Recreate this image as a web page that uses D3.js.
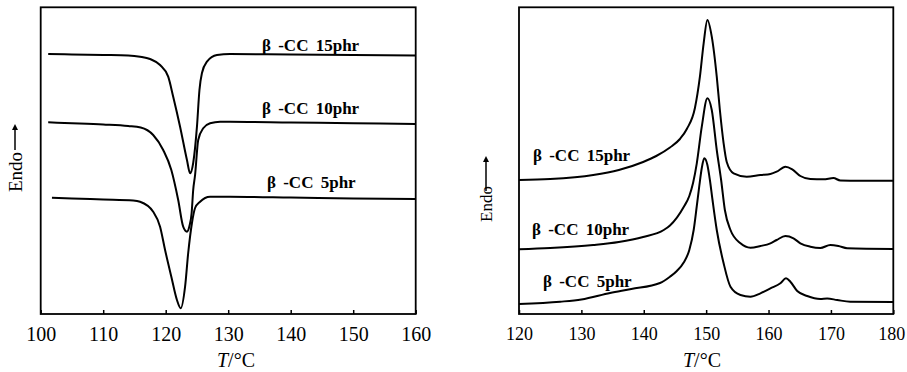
<!DOCTYPE html>
<html><head><meta charset="utf-8">
<script src="https://cdn.jsdelivr.net/npm/d3@7"></script>
<style>
body{margin:0;background:#fff}
svg{display:block}
text{font-family:"Liberation Serif","Times New Roman",serif;fill:#000}
</style>
</head><body>
<svg id="c" width="907" height="372"></svg>
<script>
// ---- data ----
const leftTicks = [100,110,120,130,140,150,160];
const rightTicks = [120,130,140,150,160,170,180];
const seriesLabels = ["β -CC 15phr","β -CC 10phr","β -CC 5phr"];
const axisTitle = "T/°C";
const yLabel = "Endo";

// cooling (crystallization) curves, [T, heat flow a.u.]
const cool15 = [[101.2,260],[105,259.5],[110,259],[114,258.5],[115.9,257.3],[117.5,255],[119.1,249],[120.4,237.3],[121.2,217.3],[122.3,187.3],[123.4,154],[123.9,140.7],[124.4,151],[125.0,187.3],[125.4,224],[125.8,241],[126.6,252.3],[128.2,259],[130.3,260],[140,259.5],[150,259],[160,258.5]];
const cool10 = [[101.2,191.7],[105,190.8],[110,189.5],[114,188],[116,186.5],[118,179],[119.6,164],[120.9,144],[122.0,114],[122.8,87.3],[123.4,82.3],[123.8,88],[124.15,101],[124.4,124],[124.7,139],[125.2,174],[126.0,185.7],[127.1,190.7],[128.7,192.3],[130.3,192.3],[140,191.5],[150,190.7],[160,190]];
const cool5 = [[101.8,116.3],[105,115.5],[110,114.5],[114.8,113.5],[115.9,112.3],[118,102.3],[119.1,87.3],[119.9,64],[120.9,37.3],[121.8,14],[122.4,5.7],[123.1,27.3],[123.6,61],[124.2,91],[124.7,106],[125.5,112.3],[127.1,117.3],[130.3,117.3],[140,116.5],[150,115.5],[160,115]];

// heating (melting) curves, [T, heat flow a.u.]
const heat15 = [[120,134],[125,135],[131.9,139],[136,144],[139.9,152],[142,158],[144.2,166.5],[145.8,175],[146.9,185],[148.2,206],[149.0,237.3],[149.6,270.7],[150.2,294],[150.9,277.3],[151.7,237.3],[152.2,204],[152.8,170.7],[153.3,152],[154.4,140.7],[156.5,137.3],[158.7,139],[160.3,140],[161.3,142.3],[162.7,147.3],[163.8,144.7],[165.1,138],[166.7,135],[168.8,134.7],[170.4,136],[171.5,133.5],[174.7,133.3],[180,133.3]];
const heat10 = [[120,64.7],[125,66],[131.9,69],[136,72],[139.9,77],[143.2,84],[144.2,88.5],[146.4,107],[147.3,118],[147.9,131],[148.5,150.7],[149.3,187.3],[150.2,215.7],[150.9,204],[151.7,164],[152.4,134],[153.0,104],[153.9,84],[155.5,70.7],[157.1,66.3],[158.7,68],[160.3,70.7],[161.3,74],[162.7,78],[164.0,75.7],[165.1,70.7],[166.7,67.3],[168.3,66],[169.9,69],[171.2,68],[172.6,65.7],[180,65]];
const heat5 = [[120,10],[126.6,12.3],[130,14.5],[134.6,21],[138,25],[142.6,31],[144.2,37.3],[145.3,43],[146.4,51.5],[147.3,64],[148.0,84],[148.5,108],[148.9,128],[149.3,146],[149.7,155.7],[150.2,149],[150.6,134],[151.0,115],[151.7,84],[152.8,50.7],[153.9,27.3],[155.5,19],[157.1,17.3],[158.7,20.7],[160.3,25.7],[161.9,30.7],[162.8,35.7],[163.5,32.3],[164.6,23],[166.2,18],[168.3,15],[169.4,15.5],[171,14],[173.1,12.3],[180,12]];

// ---- layout ----
const svg = d3.select("#c");
const yDomain = [0, 306.7];
const plotTop = 7.3, plotBottom = 314;
const panels = [
  {x0:40.7, x1:415.7, dom:[100,160], ticks:leftTicks, series:[cool15,cool10,cool5], tickFs:20,
   labels:[{x:262,y:51},{x:262,y:114},{x:267,y:188}],
   titleX:236, endo:{x:15, y:192, a0:150, a1:124, fs:19}},
  {x0:519, x1:893.3, dom:[120,180], ticks:rightTicks, series:[heat15,heat10,heat5], tickFs:18,
   labels:[{x:533,y:161},{x:532,y:235},{x:543,y:287}],
   titleX:702, endo:{x:486, y:222, a0:191, a1:156, fs:17}}
];

panels.forEach(p => {
  const x = d3.scaleLinear().domain(p.dom).range([p.x0, p.x1]);
  const y = d3.scaleLinear().domain(yDomain).range([plotBottom, plotTop]);
  const g = svg.append("g");

  g.append("rect").attr("x", p.x0).attr("y", plotTop)
    .attr("width", p.x1 - p.x0).attr("height", plotBottom - plotTop)
    .attr("fill","none").attr("stroke","#000").attr("stroke-width",1.8);

  const ax = g.append("g").attr("transform",`translate(0,${plotBottom})`)
    .call(d3.axisBottom(x).tickValues(p.ticks).tickSizeInner(-4).tickSizeOuter(0).tickPadding(13).tickFormat(d3.format("d")));
  ax.select(".domain").remove();
  ax.selectAll(".tick line").attr("stroke","#000").attr("stroke-width",1.5);
  ax.selectAll(".tick text").attr("font-size",p.tickFs).attr("font-family",'"Liberation Serif",serif').attr("fill","#000");
  ax.selectAll(".tick text").filter(d => d === 180).attr("dx", -2);

  const t = g.append("text").attr("x", p.titleX).attr("y", 367).attr("text-anchor","middle").attr("font-size",20);
  t.append("tspan").attr("font-style","italic").text(axisTitle.split("/")[0]);
  t.append("tspan").text("/" + axisTitle.split("/")[1]);

  const e = p.endo;
  g.append("text").attr("transform",`translate(${e.x},${e.y}) rotate(-90)`)
    .attr("dy","0.35em").attr("font-size",e.fs).text(yLabel);
  g.append("line").attr("x1",e.x).attr("x2",e.x).attr("y1",e.a0).attr("y2",e.a1+4)
    .attr("stroke","#000").attr("stroke-width",1.5);
  g.append("path").attr("d",`M${e.x},${e.a1} L${e.x-3},${e.a1+6} L${e.x+3},${e.a1+6} Z`).attr("fill","#000");

  const line = d3.line().x(d => x(d[0])).y(d => y(d[1])).curve(d3.curveMonotoneX);
  p.series.forEach((s, i) => {
    g.append("path").datum(s).attr("d", line).attr("fill","none")
      .attr("stroke","#000").attr("stroke-width",2).attr("stroke-linejoin","round");
    g.append("text").attr("x", p.labels[i].x).attr("y", p.labels[i].y)
      .attr("font-size",17).attr("font-weight","bold").attr("word-spacing","3px").text(seriesLabels[i]);
  });
});
</script>
</body></html>
